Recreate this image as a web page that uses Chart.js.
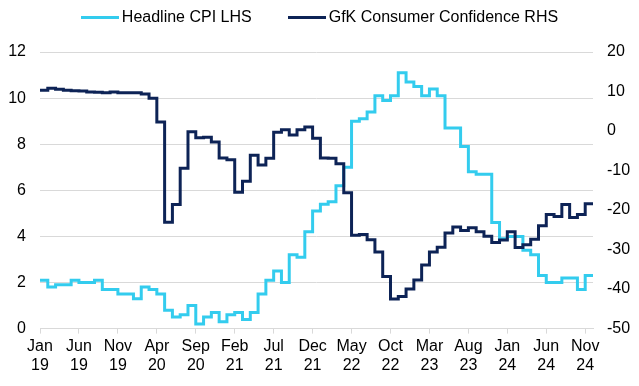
<!DOCTYPE html>
<html>
<head>
<meta charset="utf-8">
<script src="https://cdn.jsdelivr.net/npm/chart.js@4.4.1/dist/chart.umd.min.js"></script>
<style>
  body { margin: 0; background: #fff; font-family: "Liberation Sans", Arial, sans-serif; }
  #wrap { position: relative; width: 639px; height: 386px; }
  #legend { position: absolute; top: 7px; left: 0; width: 639px; display: flex; justify-content: center;
            font-size: 16px; color: #000; line-height: 20px; }
  .lg-item { display: flex; align-items: center; }
  .lg-item + .lg-item { margin-left: 36px; }
  .lg-swatch { width: 38px; height: 3px; margin-right: 3px; }
</style>
</head>
<body>
<div id="wrap">
  <div id="legend"></div>
  <canvas id="chart"></canvas>
</div>
<script>
// ── Data ──────────────────────────────────────────────────────────────────────

const monthNames = ['Jan','Feb','Mar','Apr','May','Jun','Jul','Aug','Sep','Oct','Nov','Dec'];
const years      = ['19','20','21','22','23','24'];

// Headline CPI (%), left axis — one value per month, Jan 19 .. Dec 24
const cpi = [
  2.1, 1.8, 1.9, 1.9, 2.1, 2.0, 2.0, 2.1, 1.7, 1.7, 1.5, 1.5,
  1.3, 1.8, 1.7, 1.5, 0.8, 0.5, 0.6, 1.0, 0.2, 0.5, 0.7, 0.3,
  0.6, 0.7, 0.4, 0.7, 1.5, 2.1, 2.5, 2.0, 3.2, 3.1, 4.2, 5.1,
  5.4, 5.5, 6.2, 7.0, 9.0, 9.1, 9.4, 10.1, 9.9, 10.1, 11.1, 10.7,
  10.5, 10.1, 10.4, 10.1, 8.7, 8.7, 7.9, 6.8, 6.7, 6.7, 4.6, 3.9,
  4.0, 4.0, 3.4, 3.2, 2.3, 2.0, 2.0, 2.2, 2.2, 1.7, 2.3, 2.3
];

// GfK consumer confidence, right axis
const gfk = [
  10.3, 10.8, 10.6, 10.3, 10.2, 10.1, 9.9, 9.8, 9.7, 9.9, 9.7, 9.7,
  9.7, 9.4, 8.3, 2.3, -23.1, -18.6, -9.4, -0.2, -1.7, -1.6, -2.8, -6.8,
  -7.3, -15.5, -12.7, -6.1, -8.6, -6.9, -0.3, 0.3, -1.0, 0.3, 1.0, -1.8,
  -6.8, -6.9, -8.3, -15.6, -26.4, -26.2, -27.5, -30.6, -36.8, -42.5, -41.9, -40.0,
  -37.7, -33.9, -30.6, -29.4, -25.8, -24.3, -25.2, -24.5, -25.5, -26.6, -28.2, -27.6,
  -25.5, -29.5, -28.8, -27.4, -24.0, -21.1, -21.6, -18.6, -21.9, -21.1, -18.4, -18.4
];

const labelEvery = 5;

const labels = [];
years.forEach(y => monthNames.forEach(m => labels.push(m + ' ' + y)));

const clr = { cpi: '#33ccee', gfk: '#0d2356', grid: '#d9d9d9', text: '#000' };

// ── Legend ────────────────────────────────────────────────────────────────────

const series = [
  { label: 'Headline CPI LHS', color: clr.cpi },
  { label: 'GfK Consumer Confidence RHS', color: clr.gfk }
];
document.getElementById('legend').innerHTML = series.map(s => `
  <div class="lg-item"><span class="lg-swatch" style="background:${s.color}"></span>${s.label}</div>`).join('');

// ── Chart ─────────────────────────────────────────────────────────────────────

Chart.defaults.font.family = '"Liberation Sans", Arial, sans-serif';
Chart.defaults.font.size = 16;
Chart.defaults.color = clr.text;

new Chart(document.getElementById('chart'), {
  type: 'line',
  data: {
    labels: labels,
    datasets: [
      { label: series[0].label, data: cpi, yAxisID: 'y', order: 1,
        borderColor: clr.cpi, borderWidth: 3, pointRadius: 0, stepped: true },
      { label: series[1].label, data: gfk, yAxisID: 'y2', order: 0,
        borderColor: clr.gfk, borderWidth: 3, pointRadius: 0, stepped: true }
    ]
  },
  options: {
    responsive: true,
    maintainAspectRatio: false,
    animation: false,
    layout: { padding: { top: 52, left: 8, right: 9, bottom: 8 } },
    plugins: { legend: { display: false }, tooltip: { enabled: false } },
    scales: {
      x: {
        grid: { drawOnChartArea: false, drawTicks: true, tickLength: 5, color: clr.grid },
        border: { color: clr.grid },
        ticks: {
          autoSkip: false, maxRotation: 0, padding: 3,
          callback: (v, i) => i % labelEvery === 0 ? labels[i].split(' ') : null
        },
        afterFit: s => { s.paddingLeft = 0; s.paddingRight = 0; }
      },
      y: {
        position: 'left', min: 0, max: 12,
        ticks: { stepSize: 2, padding: 14 },
        grid: { color: clr.grid, drawTicks: false },
        border: { display: false },
        afterFit: s => { s.width = 32; }
      },
      y2: {
        position: 'right', min: -50, max: 20,
        ticks: { stepSize: 10, padding: 14 },
        grid: { drawOnChartArea: false, drawTicks: false },
        border: { display: false },
        afterFit: s => { s.width = 37; }
      }
    }
  }
});
</script>
</body>
</html>
